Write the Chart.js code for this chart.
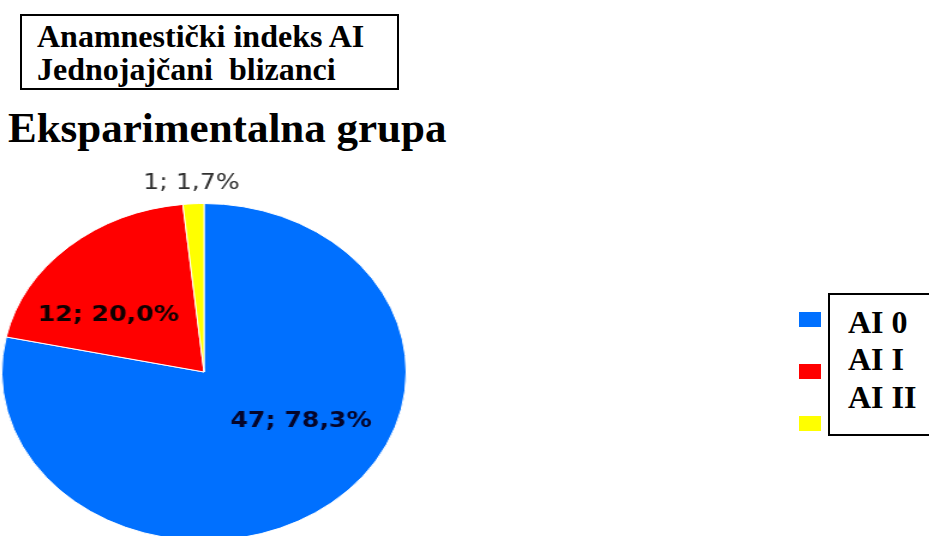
<!DOCTYPE html>
<html>
<head>
<meta charset="utf-8">
<script src="https://cdn.jsdelivr.net/npm/chart.js@4"></script>
<style>
  html, body { margin: 0; padding: 0; background: #fff; overflow: hidden; }
  body { width: 929px; height: 536px; position: relative; font-family: "Liberation Serif", "Times New Roman", serif; }
  #box { position: absolute; left: 20px; top: 14px; width: 375px; height: 72px; border: 2px solid #000; }
  #box div { position: absolute; left: 15px; font-weight: bold; font-size: 32px; white-space: pre; line-height: 32px; }
  #title { position: absolute; left: 8px; top: 103px; font-weight: bold; font-size: 43px; white-space: nowrap; }
  #wrap { position: absolute; left: 0; top: 170px; width: 342px; height: 380px; transform: scaleX(1.2); transform-origin: 0 0; }
  #legbox { position: absolute; left: 828px; top: 293px; width: 110px; height: 139px; border: 2px solid #000; }
  .sw { position: absolute; left: 799px; width: 22px; height: 15px; }
  .lt { position: absolute; left: 848px; font-weight: bold; font-size: 32px; line-height: 32px; white-space: nowrap; }
</style>
</head>
<body>
<div id="box">
  <div style="top:4px">Anamnestički indeks AI</div>
  <div style="top:37px">Jednojajčani  blizanci</div>
</div>
<div id="title">Eksparimentalna grupa</div>
<div id="wrap"><canvas id="pie" width="342" height="380"></canvas></div>
<div id="legbox"></div>

<script>
// values
const categories = ['AI 0', 'AI I', 'AI II'];
const counts = [47, 12, 1];
const percents = ['78,3%', '20,0%', '1,7%'];
const colors = ['#0070ff', '#ff0000', '#ffff00'];

// label spots, as fractions of the radius from the centre
const labelSpots = [[0.48, 0.296], [-0.473, -0.337], [-0.062, -1.118]];
const labelFonts = ['bold 21px "DejaVu Sans"', 'bold 21px "DejaVu Sans"', '21px "DejaVu Sans"'];
const labelColors = ['#05052a', '#100000', '#303030'];

const sliceLabels = {
  id: 'sliceLabels',
  afterDatasetsDraw(chart) {
    const ctx = chart.ctx;
    const arcs = chart.getDatasetMeta(0).data;
    ctx.save();
    ctx.textAlign = 'center';
    ctx.textBaseline = 'middle';
    arcs.forEach((arc, i) => {
      const r = arc.outerRadius;
      ctx.font = labelFonts[i];
      ctx.fillStyle = labelColors[i];
      ctx.fillText(counts[i] + '; ' + percents[i], arc.x + labelSpots[i][0] * r, arc.y + labelSpots[i][1] * r);
    });
    ctx.restore();
  }
};

new Chart('pie', {
  type: 'pie',
  data: {
    labels: categories,
    datasets: [{
      data: counts,
      backgroundColor: colors,
      borderColor: '#ffffff',
      borderWidth: 1
    }]
  },
  options: {
    responsive: false,
    animation: false,
    layout: { padding: { top: 33, bottom: 9, left: 1, right: 3 } },
    plugins: { legend: { display: false }, tooltip: { enabled: false } }
  },
  plugins: [sliceLabels]
});

// legend squares and texts
const rowTops = [312, 364, 416];
const textTops = [306, 343, 381];
categories.forEach((c, i) => {
  const sw = document.createElement('div');
  sw.className = 'sw';
  sw.style.top = rowTops[i] + 'px';
  sw.style.background = colors[i];
  document.body.appendChild(sw);
  const t = document.createElement('div');
  t.className = 'lt';
  t.style.top = textTops[i] + 'px';
  t.textContent = c;
  document.body.appendChild(t);
});
</script>
</body>
</html>
